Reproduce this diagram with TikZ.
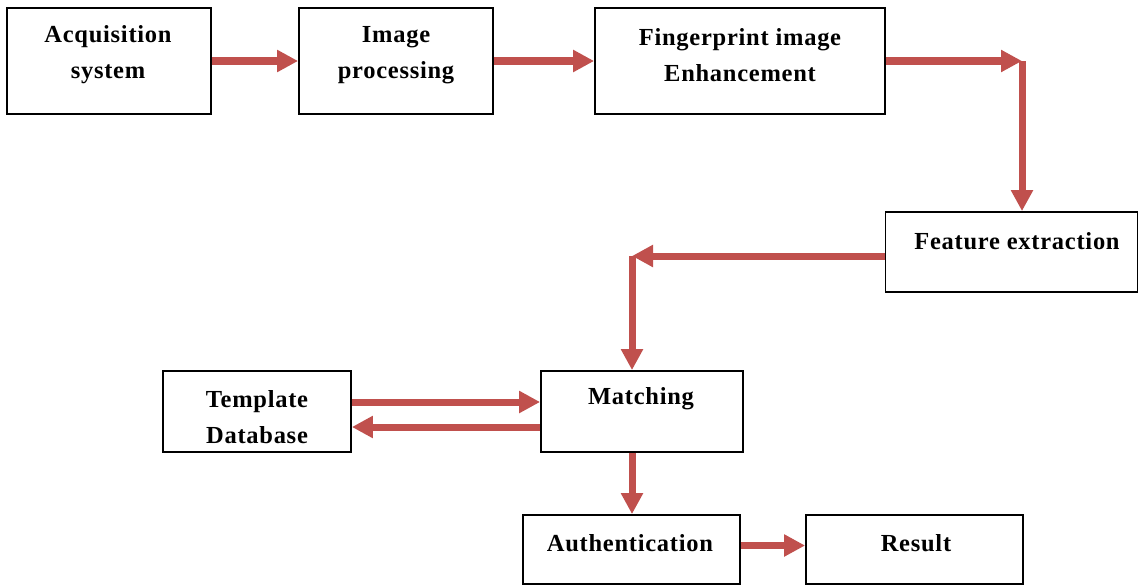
\documentclass[tikz,border=0pt]{standalone}
\usepackage{fontspec}
\setmainfont{Liberation Serif}
\usepackage{tikz}
\usetikzlibrary{arrows.meta}

\tikzset{
  box/.style={draw, line width=1.8pt, inner sep=0pt},
  lbl/.style={font=\fontsize{24.5}{36}\selectfont\bfseries\addfontfeatures{LetterSpace=3}, align=center, inner sep=0pt},
  flow/.style={draw=flowred, line width=7pt, -{Triangle[length=21pt,width=21pt]}}
}
\definecolor{flowred}{RGB}{192,80,77}

\begin{document}
\begin{tikzpicture}[x=1pt, y=-1pt]
  \useasboundingbox (0,0) rectangle (1139,586);
  % boxes
  \node[box, minimum width=204pt, minimum height=106pt] (acq) at (109,61) {};
  \node[box, minimum width=194pt, minimum height=106pt] (proc) at (396,61) {};
  \node[box, minimum width=290pt, minimum height=106pt] (enh) at (740,61) {};
  \node[box, minimum width=252pt, minimum height=80pt] (feat) at (1011.5,252) {};
  \node[box, minimum width=188pt, minimum height=81pt] (tmpl) at (257,411.5) {};
  \node[box, minimum width=202pt, minimum height=81pt] (match) at (642,411.5) {};
  \node[box, minimum width=217pt, minimum height=69pt] (auth) at (631.5,549.5) {};
  \node[box, minimum width=217pt, minimum height=69pt] (res) at (914.5,549.5) {};
  % labels
  \node[lbl] (acqtxt) at (108,55) {Acquisition\\system};
  \node[lbl] (proctxt) at (396,55) {Image\\processing};
  \node[lbl] (enhtxt) at (740,55) {Fingerprint image\\Enhancement};
  \node[lbl] (feattxt) at (1017,241) {Feature extraction};
  \node[lbl] (tmpltxt) at (257,417) {Template\\Database};
  \node[lbl] (matchtxt) at (641,399) {Matching};
  \node[lbl] (authtxt) at (630,543) {Authentication};
  \node[lbl] (restxt) at (916,543) {Result};
  % corners
  \coordinate (c1) at (1022,61);
  \coordinate (c2) at (632,256);
  % arrows
  \draw[flow] (acq.east) -- (proc.west);
  \draw[flow] (proc.east) -- (enh.west);
  \draw[flow] (enh.east) -- (c1);
  \draw[flow] (c1) -- (c1 |- feat.north);
  \draw[flow] (c2 -| feat.west) -- (c2);
  \draw[flow] (c2) -- (c2 |- match.north);
  \draw[flow] ([yshift=9.5pt]tmpl.east) -- ([yshift=9.5pt]match.west);
  \draw[flow] ([yshift=-15.5pt]match.west) -- ([yshift=-15.5pt]tmpl.east);
  \draw[flow] (c2 |- match.south) -- (c2 |- auth.north);
  \draw[flow] ([yshift=4pt]auth.east) -- ([yshift=4pt]res.west);
\end{tikzpicture}
\end{document}
